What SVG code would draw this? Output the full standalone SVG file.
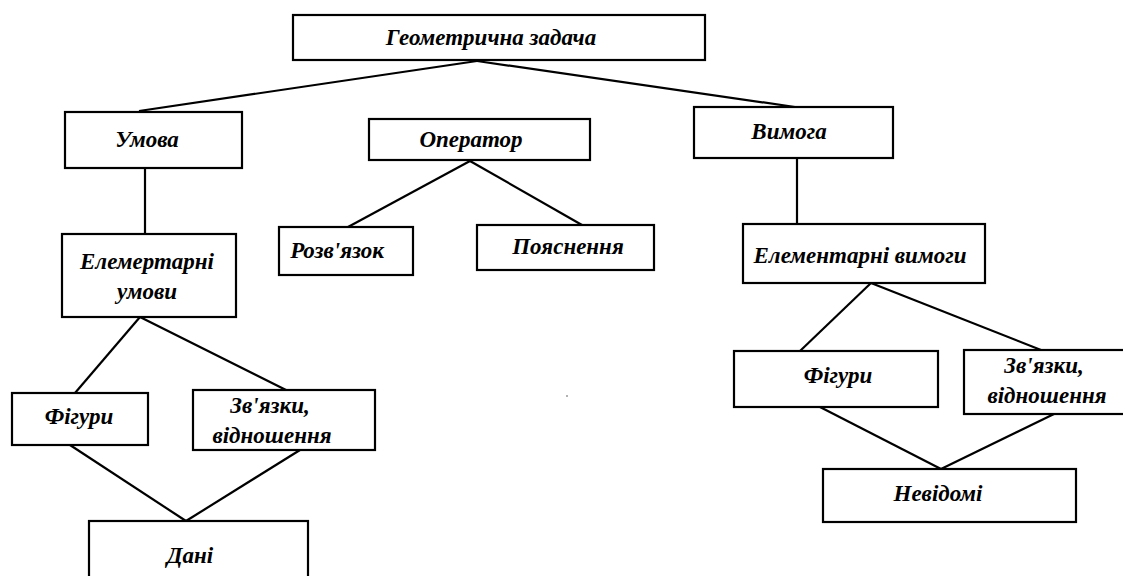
<svg xmlns="http://www.w3.org/2000/svg" width="1123" height="576" viewBox="0 0 1123 576">
<style>
.box{fill:#fff;stroke:#000;stroke-width:2.2}
.lbl{font-family:'Liberation Serif','Times New Roman',serif;font-style:italic;font-weight:bold;font-size:23px;fill:#000;text-anchor:middle}
.con line{stroke:#000;stroke-width:2.2}
</style>
<rect width="1123" height="576" fill="#fff"/>
<g id="connectors" class="con">
<line x1="477" y1="61" x2="139" y2="111"/>
<line x1="477" y1="61" x2="795" y2="107"/>
<line x1="145" y1="168" x2="145" y2="234"/>
<line x1="470" y1="161" x2="348" y2="227"/>
<line x1="470" y1="161" x2="582" y2="225"/>
<line x1="797" y1="158" x2="797" y2="224"/>
<line x1="140" y1="317" x2="75" y2="393"/>
<line x1="140" y1="317" x2="286" y2="390"/>
<line x1="70" y1="445" x2="186" y2="521"/>
<line x1="300" y1="450" x2="186" y2="521"/>
<line x1="871" y1="283" x2="800" y2="351"/>
<line x1="871" y1="283" x2="1041" y2="350"/>
<line x1="820" y1="407" x2="941" y2="469"/>
<line x1="1054" y1="414" x2="941" y2="469"/>
</g>
<g id="n-top"><rect class="box" x="293" y="15" width="412" height="45"/><text class="lbl" x="491" y="45">Геометрична задача</text></g>
<g id="n-umova"><rect class="box" x="65" y="112" width="177" height="56"/><text class="lbl" x="147" y="147">Умова</text></g>
<g id="n-operator"><rect class="box" x="369" y="119" width="221" height="41"/><text class="lbl" x="471" y="147">Оператор</text></g>
<g id="n-vymoha"><rect class="box" x="694" y="107" width="199" height="51"/><text class="lbl" x="789" y="139">Вимога</text></g>
<g id="n-elem-umovy"><rect class="box" x="62" y="234" width="174" height="83"/><text class="lbl" x="147" y="269">Елемертарні</text><text class="lbl" x="147" y="299">умови</text></g>
<g id="n-rozvyazok"><rect class="box" x="279" y="227" width="134" height="48"/><text class="lbl" x="337" y="258">Розв'язок</text></g>
<g id="n-poyasnennya"><rect class="box" x="477" y="225" width="177" height="45"/><text class="lbl" x="568" y="254">Пояснення</text></g>
<g id="n-elem-vymohy"><rect class="box" x="743" y="224" width="242" height="59"/><text class="lbl" x="860" y="263">Елементарні вимоги</text></g>
<g id="n-figury-l"><rect class="box" x="12" y="393" width="136" height="52"/><text class="lbl" x="79" y="424">Фігури</text></g>
<g id="n-zvyazky-l"><rect class="box" x="193" y="390" width="182" height="60"/><text class="lbl" x="270" y="413">Зв'язки,</text><text class="lbl" x="272" y="443">відношення</text></g>
<g id="n-dani"><rect class="box" x="89" y="521" width="219" height="70"/><text class="lbl" x="190" y="563">Дані</text></g>
<g id="n-figury-r"><rect class="box" x="734" y="351" width="204" height="56"/><text class="lbl" x="838" y="383">Фігури</text></g>
<g id="n-zvyazky-r"><rect class="box" x="964" y="350" width="180" height="64"/><text class="lbl" x="1044" y="373">Зв'язки,</text><text class="lbl" x="1047" y="403">відношення</text></g>
<g id="n-nevidomi"><rect class="box" x="823" y="469" width="253" height="53"/><text class="lbl" x="938" y="501">Невідомі</text></g>
<circle cx="567" cy="396" r="1" fill="#999"/>
</svg>
